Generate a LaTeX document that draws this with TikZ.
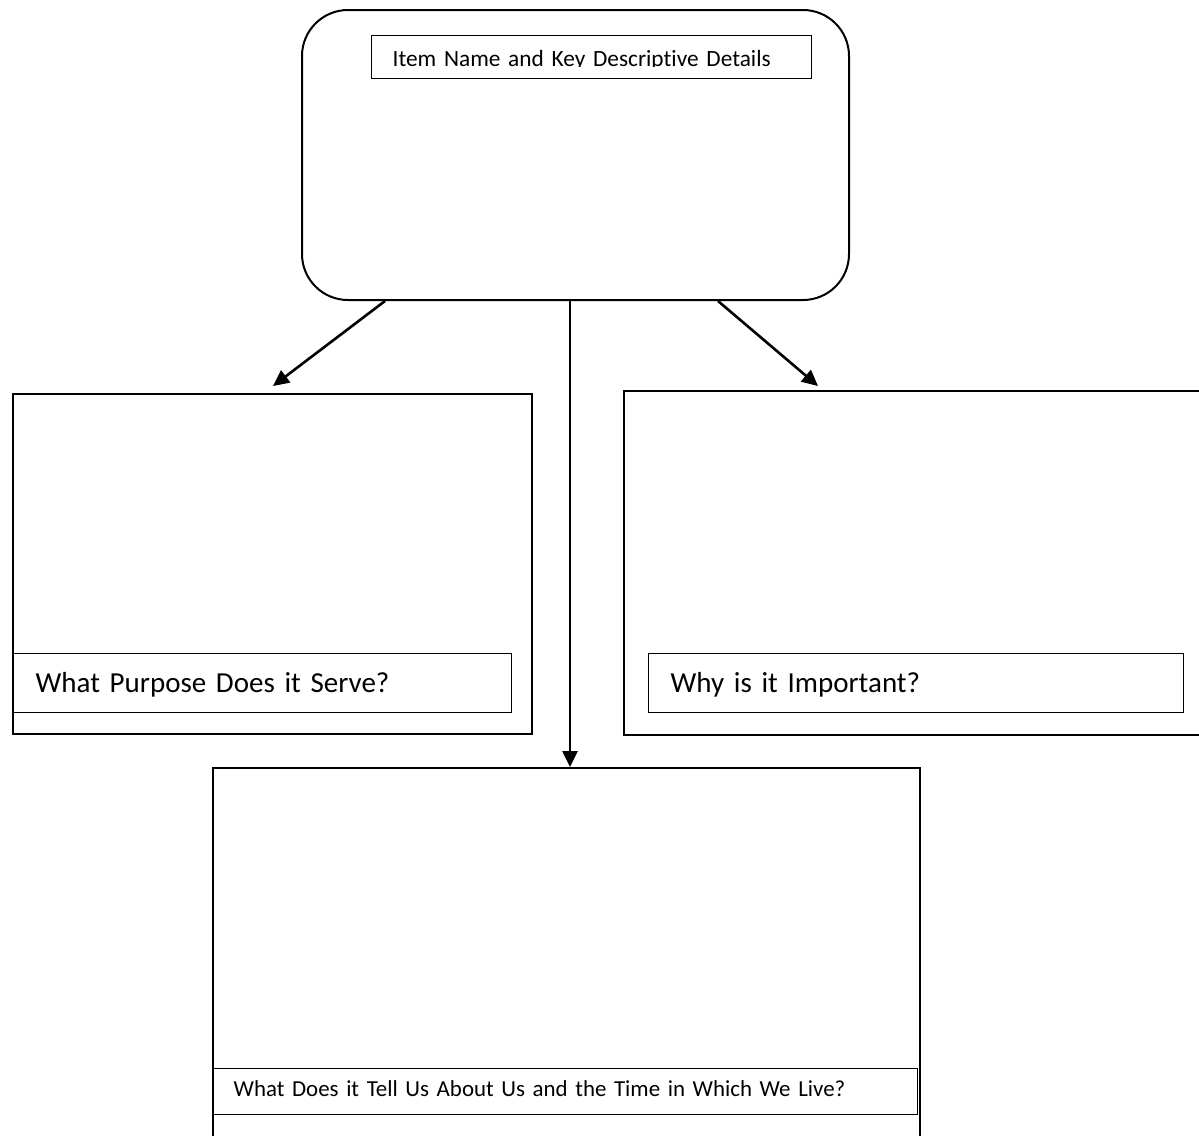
\documentclass[tikz,border=0pt]{standalone}
\usepackage{fontspec}
\setmainfont[Ligatures={NoCommon}]{Carlito}
\usetikzlibrary{arrows.meta,calc}
\tikzset{
  outerbox/.style={draw, rectangle, line width=2pt, inner sep=0pt, anchor=north west},
  lblbox/.style={draw, rectangle, line width=1.3pt, inner sep=0pt, anchor=north west, align=left, text height=19pt, text depth=0pt},
  conn/.style={line width=2.6pt, -{Triangle[length=16pt,width=15pt]}},
  bigtxt/.style={font=\fontsize{29}{34}\selectfont},
}
\begin{document}
\begin{tikzpicture}[x=1pt,y=-1pt]
\useasboundingbox (0,0) rectangle (1199,1135);
\clip (0,0) rectangle (1199,1135);
\fill[white] (0,0) rectangle (1199,1135);

% top rounded box
\node[outerbox, rounded corners=46pt, minimum width=547pt, minimum height=290pt] (top) at (301,9) {};
\node[draw, rectangle, line width=1.3pt, inner sep=0pt, anchor=north west, minimum width=440pt, minimum height=43pt,
      font=\fontsize{23.3}{27}\selectfont, text height=18pt, text depth=0pt, align=left, text width=440pt] (title) at (371,35) {\hspace*{21pt}Item Name and Key Descriptive Details};
\fill[white] (372,67) rectangle (810,77.2);

% left box
\node[outerbox, minimum width=519pt, minimum height=340pt] (lbox) at (12,393) {};
\node[lblbox, bigtxt, minimum width=499pt, minimum height=59pt, text width=499pt] (lq) at (12,653) {\hspace*{23pt}What Purpose Does it Serve?};

% right box
\node[outerbox, minimum width=620pt, minimum height=344pt] (rbox) at (623,390) {};
\node[lblbox, bigtxt, minimum width=535pt, minimum height=59pt, text width=535pt] (rq) at (648,653) {\hspace*{22pt}Why is it Important?};

% bottom box
\node[outerbox, minimum width=707pt, minimum height=400pt] (bbox) at (212,767) {};
\node[lblbox, font=\fontsize{22.9}{27}\selectfont, text height=10pt, minimum width=705pt, minimum height=46pt, text width=705pt] (bq) at (212,1068) {\hspace*{21pt}What Does it Tell Us About Us and the Time in Which We Live?};

% connectors
\coordinate (la) at (273,386);
\coordinate (ra) at (818,386);
\draw[conn] ($(top.south west)+(84,0)$) -- (la);
\draw[conn] ($(top.south west)+(417,0)$) -- (ra);
\draw[conn] ($(top.south west)+(269,0)$) -- (bbox.north -| {$(top.south west)+(269,0)$}) ;
\end{tikzpicture}
\end{document}
